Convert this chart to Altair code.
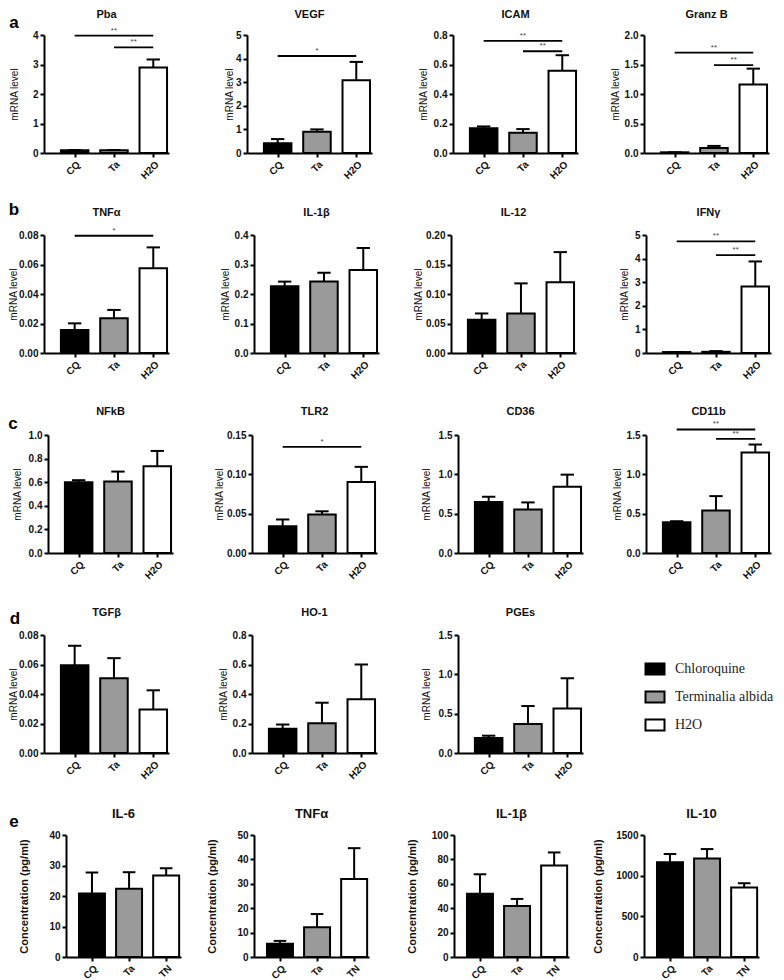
import altair as alt
import pandas as pd

FONT = "Liberation Sans"
MRNA = ["CQ", "Ta", "H2O"]
CONC = ["CQ", "Ta", "TN"]
FILLS = ["#000000", "#9a9a9a", "#ffffff"]
LEGEND_LABELS = ["Chloroquine", "Terminalia albida", "H2O"]
ROW_LETTERS = ["a", "b", "c", "d", "e"]

# ---- row a ----
pba_mean = [0.09, 0.09, 2.90]
pba_top = [0.10, 0.10, 3.17]
pba_sig = [("CQ", "H2O", 3.98, "**"), ("Ta", "H2O", 3.58, "**")]
vegf_mean = [0.41, 0.90, 3.08]
vegf_top = [0.59, 1.00, 3.86]
vegf_sig = [("CQ", "H2O", 4.11, "*")]
icam_mean = [0.167, 0.137, 0.557]
icam_top = [0.180, 0.162, 0.663]
icam_sig = [("CQ", "H2O", 0.76, "**"), ("Ta", "H2O", 0.69, "**")]
granz_mean = [0.012, 0.085, 1.16]
granz_top = [0.012, 0.12, 1.43]
granz_sig = [("CQ", "H2O", 1.70, "**"), ("Ta", "H2O", 1.49, "**")]

# ---- row b ----
tnf_mean = [0.0156, 0.0235, 0.0574]
tnf_top = [0.0201, 0.0292, 0.0716]
tnf_sig = [("CQ", "H2O", 0.0795, "*")]
il1b_mean = [0.226, 0.242, 0.281]
il1b_top = [0.242, 0.272, 0.356]
il12_mean = [0.0565, 0.067, 0.120]
il12_top = [0.067, 0.118, 0.171]
ifng_mean = [0.04, 0.05, 2.82]
ifng_top = [0.04, 0.08, 3.88]
ifng_sig = [("CQ", "H2O", 4.73, "**"), ("Ta", "H2O", 4.15, "**")]

# ---- row c ----
nfkb_mean = [0.600, 0.605, 0.735]
nfkb_top = [0.617, 0.690, 0.865]
tlr2_mean = [0.034, 0.049, 0.0903]
tlr2_top = [0.0426, 0.053, 0.1095]
tlr2_sig = [("CQ", "H2O", 0.135, "*")]
cd36_mean = [0.647, 0.553, 0.843]
cd36_top = [0.715, 0.643, 0.996]
cd11b_mean = [0.39, 0.54, 1.277]
cd11b_top = [0.404, 0.723, 1.379]
cd11b_sig = [("CQ", "H2O", 1.57, "**"), ("Ta", "H2O", 1.45, "**")]

# ---- row d ----
tgfb_mean = [0.0595, 0.0507, 0.0295]
tgfb_top = [0.0727, 0.0643, 0.0425]
ho1_mean = [0.164, 0.202, 0.364]
ho1_top = [0.193, 0.341, 0.600]
pges_mean = [0.19, 0.37, 0.567]
pges_top = [0.22, 0.597, 0.95]

# ---- row e (protein) ----
il6_mean = [20.8, 22.4, 26.7]
il6_top = [27.7, 27.8, 29.1]
tnfp_mean = [5.4, 12.2, 32.0]
tnfp_top = [6.6, 17.6, 44.6]
il1bp_mean = [51.9, 41.9, 75.1]
il1bp_top = [67.8, 47.6, 85.7]
il10_mean = [1165, 1210, 855]
il10_top = [1266, 1327, 907]

FILL_SCALE = alt.Scale(domain=[0, 1, 2], range=FILLS)


def panel(title, cats, mean, top, ymax, step, fmt, ytitle, tx, W, H, xdom,
          sig=None, letter=None, ldx=-30, ldy=-14, tsize=11, ytsize=10,
          ytweight="normal", tdy=-20, pw=None, off=0):
    n = len(cats)
    pw = pw or W
    df = pd.DataFrame({"group": cats, "idx": list(range(n)), "mean": mean, "top": top})
    xscale = alt.Scale(domain=xdom, nice=False, zero=False, range=[off, off + pw])
    yscale = alt.Scale(domain=[0, ymax], nice=False, zero=True)
    lab_expr = "[" + ",".join("'%s'" % c for c in cats) + "][datum.value]"
    xaxis = alt.Axis(values=list(range(n)), labelExpr=lab_expr, labelAngle=-45,
                     title=None, grid=False)
    ticks = []
    k = 0
    while k * step <= ymax + 1e-9:
        ticks.append(round(k * step, 6))
        k += 1
    yaxis = alt.Axis(values=ticks, format=fmt, title=ytitle, titleX=tx, titleY=H / 2,
                     titleAngle=-90, titleBaseline="middle", titleAlign="center",
                     titleFontSize=ytsize, titleFontWeight=ytweight, grid=False,
                     offset=-off)

    def X(f):
        return alt.X(f, scale=xscale, axis=xaxis)

    def Y(f):
        return alt.Y(f, scale=yscale, axis=yaxis, stack=None)

    base = alt.Chart(df)
    bars = base.transform_calculate(
        xa="datum.idx - 0.35", xb="datum.idx + 0.35"
    ).mark_bar(stroke="black", strokeWidth=2).encode(
        x=X("xa:Q"), x2="xb:Q", y=Y("mean:Q"), y2=alt.datum(0),
        fill=alt.Fill("idx:N", scale=FILL_SCALE, legend=None),
    )
    err = base.mark_rule(color="black", strokeWidth=2).encode(
        x=X("idx:Q"), y=Y("mean:Q"), y2="top:Q"
    )
    cap = base.transform_calculate(
        ca="datum.idx - 0.17", cb="datum.idx + 0.17"
    ).mark_rule(color="black", strokeWidth=2).encode(
        x=X("ca:Q"), x2="cb:Q", y=Y("top:Q")
    )
    layers = [bars, err, cap]
    if sig:
        sdf = pd.DataFrame({
            "a": [cats.index(s[0]) for s in sig],
            "b": [cats.index(s[1]) for s in sig],
            "lvl": [s[2] for s in sig],
            "lab": [s[3] for s in sig],
        })
        srule = alt.Chart(sdf).mark_rule(color="black", strokeWidth=1.8).encode(
            x=X("a:Q"), x2="b:Q", y=Y("lvl:Q")
        )
        stext = alt.Chart(sdf).transform_calculate(
            m="(datum.a + datum.b) / 2"
        ).mark_text(fontSize=8, dy=-1, baseline="bottom", color="#444", font=FONT).encode(
            x=X("m:Q"), y=Y("lvl:Q"), text="lab:N"
        )
        layers += [srule, stext]
    ttl = alt.Chart(pd.DataFrame({"t": [title]})).mark_text(
        font=FONT, fontWeight="bold", fontSize=tsize, color="#111", baseline="middle"
    ).encode(text="t:N", x=alt.value(off + pw / 2), y=alt.value(tdy))
    layers.append(ttl)
    if letter:
        let = alt.Chart(pd.DataFrame({"t": [letter]})).mark_text(
            font=FONT, fontWeight="bold", fontSize=17, color="#000", baseline="middle"
        ).encode(text="t:N", x=alt.value(ldx), y=alt.value(ldy))
        layers.append(let)
    return alt.layer(*layers).properties(width=W, height=H)


W, H = 125, 118
XD = [-0.78, 2.4]
HE = 122
PWE = 115
XDE = [-0.7, 2.4]
ML = "mRNA level"
CC = "Concentration (pg/ml)"

cells = [
    # row a
    panel("Pba", MRNA, pba_mean, pba_top, 4, 1, "d", ML, -30, W, H, XD, pba_sig, ROW_LETTERS[0], -30, -12),
    panel("VEGF", MRNA, vegf_mean, vegf_top, 5, 1, "d", ML, -18, W, H, XD, vegf_sig, off=3),
    panel("ICAM", MRNA, icam_mean, icam_top, 0.8, 0.2, ".1f", ML, -30, W, H, XD, icam_sig, off=9),
    panel("Granz B", MRNA, granz_mean, granz_top, 2.0, 0.5, ".1f", ML, -29, W, H, XD, granz_sig),
    # row b
    panel("TNFα", MRNA, tnf_mean, tnf_top, 0.08, 0.02, ".2f", ML, -31, W, H, XD, tnf_sig, ROW_LETTERS[1], -30, -25, tdy=-22),
    panel("IL-1β", MRNA, il1b_mean, il1b_top, 0.4, 0.1, ".1f", ML, -29, W, H, XD, off=10, tdy=-22),
    panel("IL-12", MRNA, il12_mean, il12_top, 0.20, 0.05, ".2f", ML, -33, W, H, XD, off=7, tdy=-22),
    panel("IFNγ", MRNA, ifng_mean, ifng_top, 5, 1, "d", ML, -22, W, H, XD, ifng_sig, off=2, tdy=-22),
    # row c
    panel("NFkB", MRNA, nfkb_mean, nfkb_top, 1.0, 0.2, ".1f", ML, -31, W, H, XD, None, ROW_LETTERS[2], -31, -11, off=4, tdy=-23),
    panel("TLR2", MRNA, tlr2_mean, tlr2_top, 0.15, 0.05, ".2f", ML, -33, W, H, XD, tlr2_sig, off=8, tdy=-23),
    panel("CD36", MRNA, cd36_mean, cd36_top, 1.5, 0.5, ".1f", ML, -32, W, H, XD, off=14, tdy=-23),
    panel("CD11b", MRNA, cd11b_mean, cd11b_top, 1.5, 0.5, ".1f", ML, -29, W, H, XD, cd11b_sig, off=2, tdy=-23),
    # row d
    panel("TGFβ", MRNA, tgfb_mean, tgfb_top, 0.08, 0.02, ".2f", ML, -31, W, H, XD, None, ROW_LETTERS[3], -29, -16, tdy=-22),
    panel("HO-1", MRNA, ho1_mean, ho1_top, 0.8, 0.2, ".1f", ML, -29, W, H, XD, off=8, tdy=-22),
    panel("PGEs", MRNA, pges_mean, pges_top, 1.5, 0.5, ".1f", ML, -32, W, H, XD, off=14, tdy=-22),
]

leg_df = pd.DataFrame({"label": LEGEND_LABELS, "idx": [0, 1, 2]})
yl = alt.Y("label:N", scale=alt.Scale(type="point", domain=LEGEND_LABELS, range=[34, 90], padding=0), axis=None)
leg_sym = alt.Chart(leg_df).mark_point(
    shape="M-1,-0.58L1,-0.58L1,0.58L-1,0.58Z", size=361, filled=True,
    stroke="black", strokeWidth=2, opacity=1,
).encode(x=alt.value(11), y=yl, fill=alt.Fill("idx:N", scale=FILL_SCALE, legend=None))
leg_txt = alt.Chart(leg_df).mark_text(
    align="left", baseline="middle", font="Liberation Serif", fontSize=14, color="#222"
).encode(x=alt.value(31), y=yl, text="label:N")
cells.append(alt.layer(leg_sym, leg_txt).properties(width=W, height=H))

cells += [
    panel("IL-6", CONC, il6_mean, il6_top, 40, 10, "d", CC, -42, W, HE, XDE, None, ROW_LETTERS[4], -30, -13, 13, 11, "bold", -21, PWE, 22),
    panel("TNFα", CONC, tnfp_mean, tnfp_top, 50, 10, "d", CC, -42, W, HE, XDE, None, None, 0, 0, 13, 11, "bold", -21, PWE, 10),
    panel("IL-1β", CONC, il1bp_mean, il1bp_top, 100, 20, "d", CC, -42, W, HE, XDE, None, None, 0, 0, 13, 11, "bold", -21, PWE, 10),
    panel("IL-10", CONC, il10_mean, il10_top, 1500, 500, "d", CC, -46, W, HE, XDE, None, None, 0, 0, 13, 11, "bold", -21, PWE, 0),
]

chart = alt.concat(
    *cells, columns=4, spacing={"row": 82, "column": 75}, bounds="flush", align="each"
).properties(
    padding={"left": 0, "top": 1, "right": 0, "bottom": 0}
).configure_view(stroke=None).configure_axis(
    domainColor="black", domainWidth=2, tickColor="black", tickWidth=2, tickSize=4,
    labelFont=FONT, labelFontWeight="bold", labelFontSize=10, labelColor="#111",
    titleFont=FONT, titleColor="#111", labelPadding=2, grid=False,
)

chart.save("out.html", embed_options={"renderer": "svg", "actions": False})
